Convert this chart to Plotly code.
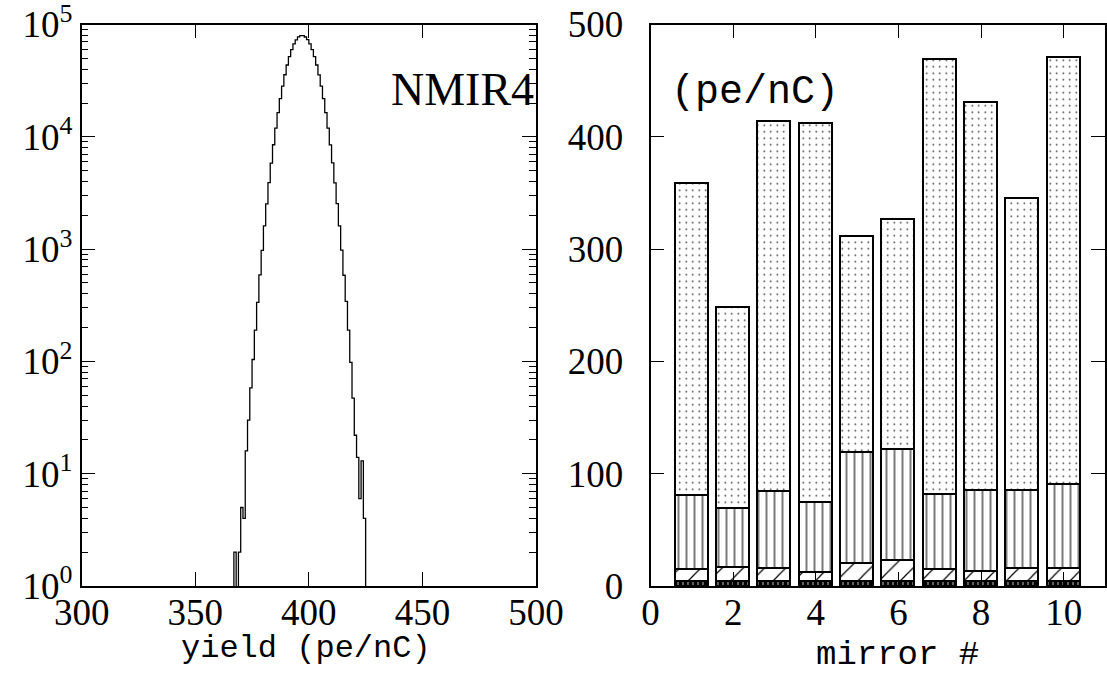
import plotly.graph_objects as go

# ---------------- data ----------------
# left panel: histogram of yield, 1 pe/nC bins, bin left edges 365..425
bin_left = list(range(365, 426))
counts = [0, 0, 2, 0, 2, 5, 4, 16, 30, 58,
          104, 190, 335, 590, 975, 1610, 2530, 3910, 5830, 8500,
          11950, 16400, 21900, 28300, 35700, 43600, 51800, 59800, 67100, 73100,
          77500, 79700, 79700, 77400, 73200, 67100, 59800, 51800, 43600, 35600,
          28300, 21900, 16400, 11970, 8470, 5850, 3890, 2540, 1610, 980,
          585, 342, 190, 98, 47, 22, 14, 6, 13, 4,
          0]
bin_width = 1

# right panel: stacked yield contributions per mirror (pe/nC)
mirror = [1, 2, 3, 4, 5, 6, 7, 8, 9, 10]
top_black = [4, 4, 4, 4, 4, 4, 4, 4, 4, 4]
top_hatch = [14.5, 16.9, 15.4, 11.9, 19.6, 22.5, 14.5, 13.1, 15.7, 15.7]
top_vert = [80.7, 68.9, 84.3, 74.5, 118.7, 121.7, 81.9, 85.2, 85.2, 90.5]
top_total = [358, 247.6, 414, 412, 310.8, 326.8, 469, 431, 345.5, 471]

x_ticks_left = [300, 350, 400, 450, 500]
y_ticks_left = [1, 10, 100, 1000, 10000, 100000]
y_ticktext_left = ["10<sup>%d</sup>" % i for i in range(6)]
x_ticks_right = [0, 2, 4, 6, 8, 10]
y_ticks_right = [0, 100, 200, 300, 400, 500]

# ---------------- figure ----------------
SERIF = "Liberation Serif"
MONO = "Liberation Mono"
fig = go.Figure()

floor = 0.1  # zero counts drawn below the log axis floor
xs = bin_left + [bin_left[-1] + bin_width]
ys = [c if c > 0 else floor for c in counts]
ys = ys + [ys[-1]]
fig.add_trace(go.Scatter(x=xs, y=ys, mode="lines", line=dict(shape="hv", color="black", width=1.3),
                         xaxis="x", yaxis="y", showlegend=False, hoverinfo="skip"))

seg_black = top_black
seg_hatch = [h - b for h, b in zip(top_hatch, top_black)]
seg_vert = [v - h for v, h in zip(top_vert, top_hatch)]
seg_dots = [t - v for t, v in zip(top_total, top_vert)]

line = dict(color="black", width=1.3)
fig.add_trace(go.Bar(x=mirror, y=seg_black, width=0.8, xaxis="x2", yaxis="y2", showlegend=False,
                     marker=dict(color="black", line=line,
                                 pattern=dict(shape="|", fgcolor="white", bgcolor="black", size=5, solidity=0.15,
                                              fillmode="replace"))))
fig.add_trace(go.Bar(x=mirror, y=seg_hatch, width=0.8, xaxis="x2", yaxis="y2", showlegend=False,
                     marker=dict(color="white", line=line,
                                 pattern=dict(shape="/", fgcolor="black", bgcolor="white", size=15, solidity=0.08,
                                              fillmode="replace"))))
fig.add_trace(go.Bar(x=mirror, y=seg_vert, width=0.8, xaxis="x2", yaxis="y2", showlegend=False,
                     marker=dict(color="white", line=line,
                                 pattern=dict(shape="|", fgcolor="black", bgcolor="white", size=8, solidity=0.13,
                                              fillmode="replace"))))
fig.add_trace(go.Bar(x=mirror, y=seg_dots, width=0.8, xaxis="x2", yaxis="y2", showlegend=False,
                     marker=dict(color="white", line=line,
                                 pattern=dict(shape=".", fgcolor="#333", bgcolor="white", size=6.5, solidity=0.05,
                                              fillmode="replace"))))

# page body margin is removed below, so figure pixels == screenshot pixels
W, H = 1107, 676


def px(x):
    return x / W


def py(y):
    return 1 - y / H


axis_common = dict(showline=True, linecolor="black", linewidth=1.5, mirror="allticks", ticks="inside",
                   tickcolor="black", tickwidth=1.3, ticklen=14, showgrid=False, zeroline=False,
                   automargin=False, ticklabeloverflow="allow",
                   tickfont=dict(family=SERIF, size=37, color="black"))

minor_vals = [m * 10 ** e for e in range(0, 5) for m in range(2, 10)]

fig.update_layout(
    width=W, height=H, margin=dict(l=0, r=0, t=0, b=0, autoexpand=False),
    plot_bgcolor="white", paper_bgcolor="white", barmode="stack", bargap=0,
    xaxis=dict(axis_common, domain=[px(81.7), px(536)], range=[300, 500], tickvals=x_ticks_left,
               anchor="y", ticklabelstandoff=-7),
    yaxis=dict(axis_common, domain=[py(586), py(24.5)], type="log", range=[0, 5.00001],
               tickvals=y_ticks_left, ticktext=y_ticktext_left, anchor="x", ticklabelstandoff=0),
    xaxis2=dict(axis_common, domain=[px(650.5), px(1105)], range=[0, 11], tickvals=x_ticks_right,
                anchor="y2", ticklabelstandoff=-7),
    yaxis2=dict(axis_common, domain=[py(586), py(24.5)], range=[0, 500.01],
                tickvals=y_ticks_right, anchor="x2", ticklabelstandoff=18),
    annotations=[
        dict(text="NMIR4", x=px(462), y=py(89), xref="paper", yref="paper", showarrow=False,
             font=dict(family=SERIF, size=46, color="black"), xanchor="center", yanchor="middle"),
        dict(text="(pe/nC)", x=px(755), y=py(93), xref="paper", yref="paper", showarrow=False,
             font=dict(family=MONO, size=40, color="black"), xanchor="center", yanchor="middle"),
        dict(text="yield (pe/nC)", x=px(306), y=py(648), xref="paper", yref="paper", showarrow=False,
             font=dict(family=MONO, size=32, color="black"), xanchor="center", yanchor="middle"),
        dict(text="mirror #", x=px(897), y=py(655), xref="paper", yref="paper", showarrow=False,
             font=dict(family=MONO, size=34, color="black"), xanchor="center", yanchor="middle"),
    ],
)
fig.layout.yaxis.minor = dict(tickvals=minor_vals, ticks="inside", ticklen=7, tickcolor="black",
                              tickwidth=1.2, showgrid=False)

fig.write_html("out.html", config={"displayModeBar": False},
               post_script="document.body.style.margin='0';document.body.style.overflow='hidden';")
